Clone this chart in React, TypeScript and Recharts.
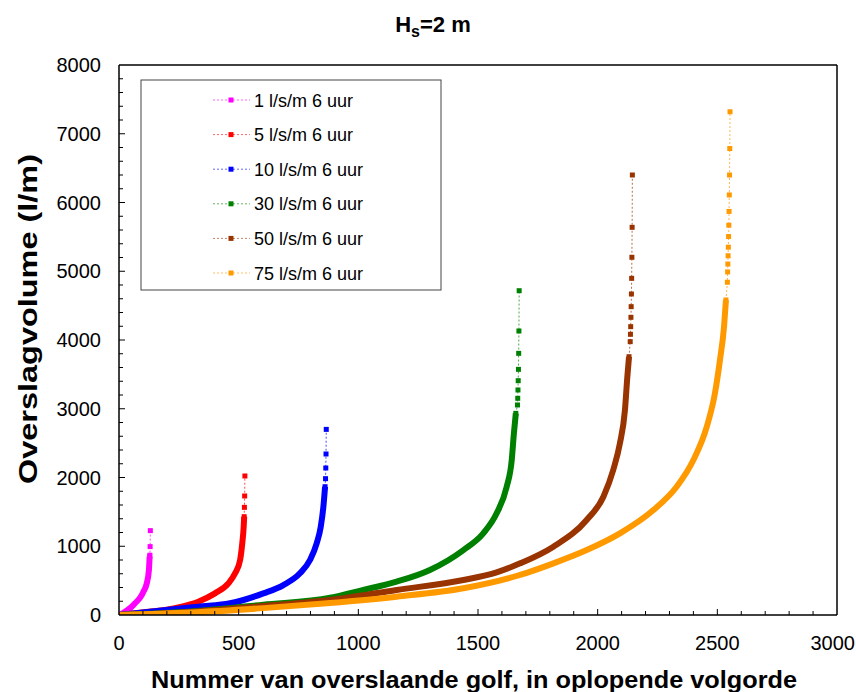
import React from "react";
import { LineChart, Line, XAxis, YAxis, ReferenceLine } from "recharts";

const FONT = "'Liberation Sans', Arial, Helvetica, sans-serif";

const seriesNames = ["1 l/s/m 6 uur", "5 l/s/m 6 uur", "10 l/s/m 6 uur", "30 l/s/m 6 uur", "50 l/s/m 6 uur", "75 l/s/m 6 uur"];
const seriesColors = ["#FF00FF", "#FF0000", "#0000FF", "#008000", "#993300", "#FF9900"];

// dense part of each curve: wave number (sorted) and volume in l/m
const q1Nr = [1, 25, 53, 67, 95, 102, 116, 125, 128];
const q1Vol = [0, 48, 121, 170, 290, 339, 460, 655, 850];
const q5Nr = [1, 123, 192, 262, 331, 401, 457, 485, 506, 515, 521, 523];
const q5Vol = [0, 48, 73, 121, 194, 315, 460, 606, 800, 1042, 1285, 1430];
const q10Nr = [1, 199, 331, 464, 603, 687, 756, 798, 826, 843, 854, 861];
const q10Vol = [0, 73, 121, 170, 315, 436, 606, 800, 1042, 1285, 1576, 1866];
const q30Nr = [1, 300, 603, 882, 1021, 1160, 1299, 1439, 1522, 1578, 1620, 1641, 1650, 1658];
const q30Vol = [0, 50, 150, 250, 364, 485, 655, 945, 1188, 1479, 1866, 2255, 2642, 2933];
const q50Nr = [1, 300, 603, 882, 1160, 1439, 1578, 1676, 1815, 1954, 2024, 2065, 2093, 2114, 2124, 2131];
const q50Vol = [0, 45, 130, 218, 364, 509, 620, 751, 994, 1382, 1721, 2109, 2497, 2982, 3467, 3757];
const q75Nr = [1, 300, 603, 882, 1160, 1439, 1676, 1815, 1954, 2093, 2233, 2330, 2400, 2456, 2490, 2511, 2528, 2536];
const q75Vol = [0, 35, 100, 175, 267, 388, 582, 751, 945, 1188, 1527, 1866, 2255, 2739, 3224, 3709, 4194, 4582];

// largest waves, visible as separate markers
const q1TopNr = [129, 130, 131];
const q1TopVol = [870, 995, 1227];
const q5TopNr = [524, 525, 526];
const q5TopVol = [1566, 1731, 2022];
const q10TopNr = [863, 864, 865, 866];
const q10TopVol = [1983, 2138, 2342, 2700];
const q30TopNr = [1665, 1666, 1667, 1668, 1669, 1670, 1671, 1672];
const q30TopVol = [3055, 3152, 3273, 3408, 3573, 3806, 4131, 4717];
const q50TopNr = [2136, 2137, 2138, 2139, 2140, 2141, 2142, 2143, 2144, 2145];
const q50TopVol = [3976, 4083, 4194, 4330, 4485, 4669, 4897, 5203, 5639, 6400];
const q75TopNr = [2542, 2543, 2544, 2545, 2546, 2547, 2548, 2549, 2550, 2551, 2552, 2553];
const q75TopVol = [4840, 4990, 5105, 5225, 5350, 5505, 5670, 5870, 6110, 6400, 6785, 7320];

const xMajor = [0, 500, 1000, 1500, 2000, 2500, 3000];
const yMajor = [0, 1000, 2000, 3000, 4000, 5000, 6000, 7000, 8000];
const xTicks = Array.from({ length: 31 }, (_, i) => i * 100);
const yTicks = Array.from({ length: 41 }, (_, i) => i * 200);

const toPoints = (nr: number[], vol: number[]) => nr.map((x, i) => ({ x, y: vol[i] }));

const bodies = [
  toPoints(q1Nr, q1Vol),
  toPoints(q5Nr, q5Vol),
  toPoints(q10Nr, q10Vol),
  toPoints(q30Nr, q30Vol),
  toPoints(q50Nr, q50Vol),
  toPoints(q75Nr, q75Vol),
];
const tops = [
  toPoints(q1TopNr, q1TopVol),
  toPoints(q5TopNr, q5TopVol),
  toPoints(q10TopNr, q10TopVol),
  toPoints(q30TopNr, q30TopVol),
  toPoints(q50TopNr, q50TopVol),
  toPoints(q75TopNr, q75TopVol),
];

function XTick(props: any) {
  const { x, y, payload } = props;
  const v = payload.value;
  const major = xMajor.includes(v);
  // last label would run off the page edge
  const last = v === 3000;
  return (
    <g>
      {v > 0 && v < 3000 && <line x1={x} x2={x} y1={y} y2={y - (major ? 6 : 4)} stroke="#000" strokeWidth={1} />}
      {major && (
        <text
          x={last ? 855 : x}
          y={y + 35}
          textAnchor={last ? "end" : "middle"}
          fontSize={20}
          fontFamily={FONT}
          fill="#000"
        >
          {v}
        </text>
      )}
    </g>
  );
}

function YTick(props: any) {
  const { x, y, payload } = props;
  const v = payload.value;
  const major = yMajor.includes(v);
  return (
    <g>
      {v > 0 && v < 8000 && <line x1={x} x2={x + (major ? 6 : 4)} y1={y} y2={y} stroke="#000" strokeWidth={1} />}
      {major && (
        <text x={x - 18} y={y + 7} textAnchor="end" fontSize={20} fontFamily={FONT} fill="#000">
          {v}
        </text>
      )}
    </g>
  );
}

const squareDot = (color: string) => (p: any) => (
  <rect key={`d-${p.index}`} x={p.cx - 2.5} y={p.cy - 2.5} width={5} height={5} fill={color} />
);

export default function App() {
  return (
    <div style={{ position: "absolute", left: 0, top: 0, width: 856, height: 692, background: "#fff" }}>
      <LineChart width={856} height={692} margin={{ top: 65, right: 19, bottom: 37, left: 79 }}>
        <XAxis
          type="number"
          dataKey="x"
          domain={[0, 3000]}
          ticks={xTicks}
          interval={0}
          height={40}
          tickSize={0}
          tickMargin={0}
          tickLine={false}
          tick={XTick}
          axisLine={{ stroke: "#000", strokeWidth: 1.5 }}
          allowDataOverflow
        />
        <YAxis
          type="number"
          dataKey="y"
          domain={[0, 8000]}
          ticks={yTicks}
          interval={0}
          width={40}
          tickSize={0}
          tickMargin={0}
          tickLine={false}
          tick={YTick}
          axisLine={{ stroke: "#000", strokeWidth: 1.5 }}
          allowDataOverflow
        />
        <ReferenceLine y={8000} stroke="#000" strokeWidth={1.5} />
        <ReferenceLine x={3000} stroke="#000" strokeWidth={1.5} />
        {bodies.map((pts, i) => [
          <Line
            key={`body-${i}`}
            data={pts}
            dataKey="y"
            type="monotone"
            stroke={seriesColors[i]}
            strokeWidth={6}
            dot={false}
            activeDot={false}
            legendType="none"
            isAnimationActive={false}
          />,
          <Line
            key={`top-${i}`}
            data={[pts[pts.length - 1], ...tops[i]]}
            dataKey="y"
            type="linear"
            stroke={seriesColors[i]}
            strokeOpacity={0.7}
            strokeWidth={1}
            strokeDasharray="2 2"
            dot={squareDot(seriesColors[i])}
            activeDot={false}
            legendType="none"
            isAnimationActive={false}
          />,
        ])}
      </LineChart>
      <svg
        width={856}
        height={692}
        style={{ position: "absolute", left: 0, top: 0, pointerEvents: "none" }}
        fontFamily={FONT}
      >
        <text x={433} y={32} textAnchor="middle" fontSize={22} fontWeight="bold">
          <tspan>H</tspan>
          <tspan fontSize={16} dy={5}>s</tspan>
          <tspan dy={-5}>=2 m</tspan>
        </text>
        <text
          x={474}
          y={688}
          textAnchor="middle"
          fontSize={24}
          fontWeight="bold"
          textLength={646}
          lengthAdjust="spacingAndGlyphs"
        >
          Nummer van overslaande golf, in oplopende volgorde
        </text>
        <text
          transform="translate(37 319) rotate(-90)"
          textAnchor="middle"
          fontSize={25}
          fontWeight="bold"
          textLength={330}
          lengthAdjust="spacingAndGlyphs"
        >
          Overslagvolume (l/m)
        </text>
        <rect x={141} y={80} width={300} height={210} fill="#fff" stroke="#444" strokeWidth={1} />
        {seriesNames.map((name, i) => {
          const cy = 100 + i * 34.6;
          return (
            <g key={name}>
              <line x1={213} x2={250} y1={cy} y2={cy} stroke={seriesColors[i]} strokeOpacity={0.6} strokeDasharray="2 2" />
              <rect x={228.5} y={cy - 2.5} width={5} height={5} fill={seriesColors[i]} />
              <text x={254} y={cy + 6.5} fontSize={18}>
                {name}
              </text>
            </g>
          );
        })}
      </svg>
    </div>
  );
}
